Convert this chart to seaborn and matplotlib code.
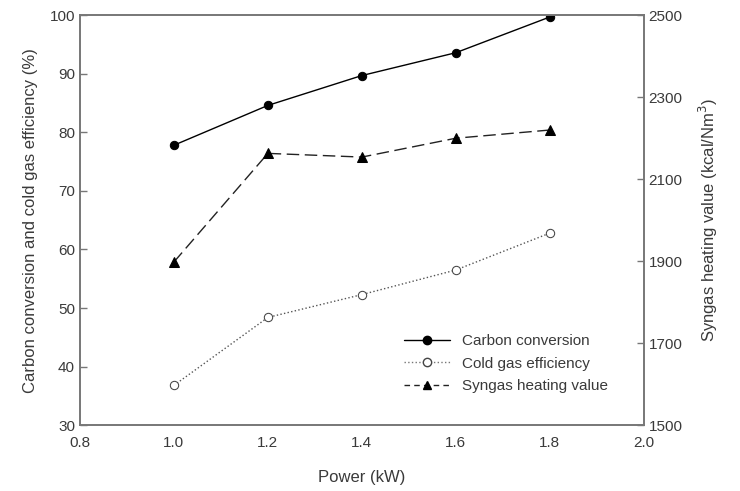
import matplotlib
matplotlib.use("Agg")
import matplotlib.pyplot as plt
import seaborn as sns
import pandas as pd
from matplotlib.lines import Line2D

power = [1.0, 1.2, 1.4, 1.6, 1.8]
carbon_conversion = [77.8, 84.6, 89.7, 93.6, 99.7]
cold_gas_efficiency = [36.8, 48.4, 52.3, 56.5, 62.8]
syngas_heating_value = [1898, 2163, 2154, 2200, 2220]

sns.set_theme(style="white")
plt.rcParams['font.family'] = ['Liberation Sans', 'DejaVu Sans']

df = pd.DataFrame({"power": power, "cc": carbon_conversion,
                   "cge": cold_gas_efficiency, "shv": syngas_heating_value})

fig = plt.figure(figsize=(7.4, 4.91), dpi=100)
ax = fig.add_axes([0.108, 0.134, 0.762, 0.835])
ax2 = ax.twinx()

sns.lineplot(data=df, x="power", y="cc", ax=ax, color="black", lw=1.0,
             marker="o", markersize=6, markerfacecolor="black", markeredgecolor="black")
sns.lineplot(data=df, x="power", y="cge", ax=ax, color="#555555", lw=1.0, linestyle=":",
             marker="o", markersize=6, markerfacecolor="white", markeredgecolor="#444444")
sns.lineplot(data=df, x="power", y="shv", ax=ax2, color="#222222", lw=1.0, linestyle=(0, (9, 4)),
             marker="^", markersize=6.5, markerfacecolor="black", markeredgecolor="black")

ax.set_xlim(0.8, 2.0)
ax.set_ylim(30, 100)
ax2.set_ylim(1500, 2500)
ax.set_xticks([0.8, 1.0, 1.2, 1.4, 1.6, 1.8, 2.0])
ax.set_xticklabels(["0.8", "1.0", "1.2", "1.4", "1.6", "1.8", "2.0"])
ax.set_yticks([30, 40, 50, 60, 70, 80, 90, 100])
ax2.set_yticks([1500, 1700, 1900, 2100, 2300, 2500])

tc = "#3a3a3a"
for a in (ax, ax2):
    for s in a.spines.values():
        s.set_color("#777777")
        s.set_linewidth(1.2)
    a.tick_params(direction="in", length=5, width=1, colors="#777777", labelcolor=tc, labelsize=11)
ax.tick_params(axis="x", pad=8)

ax.set_xlabel("Power (kW)", fontsize=12, color=tc, labelpad=14)
ax.set_ylabel("Carbon conversion and cold gas efficiency (%)", fontsize=12, color=tc, labelpad=8)
ax2.set_ylabel("Syngas heating value (kcal/Nm$^3$)", fontsize=12, color=tc, labelpad=10)

handles = [
    Line2D([], [], color="black", lw=1.0, marker="o", markersize=6, markerfacecolor="black"),
    Line2D([], [], color="#777777", lw=1.0, linestyle=":", marker="o", markersize=6,
           markerfacecolor="white", markeredgecolor="#444444"),
    Line2D([], [], color="#222222", lw=1.0, linestyle=(0, (4, 3)), marker="^", markersize=6,
           markerfacecolor="black", markeredgecolor="black"),
]
labels = ["Carbon conversion", "Cold gas efficiency", "Syngas heating value"]
leg = ax2.legend(handles, labels, loc="lower left", bbox_to_anchor=(0.55, 0.045),
                 frameon=False, fontsize=11, handlelength=3.0, labelspacing=0.55)
for t in leg.get_texts():
    t.set_color(tc)

fig.savefig("out.png", dpi=100)
